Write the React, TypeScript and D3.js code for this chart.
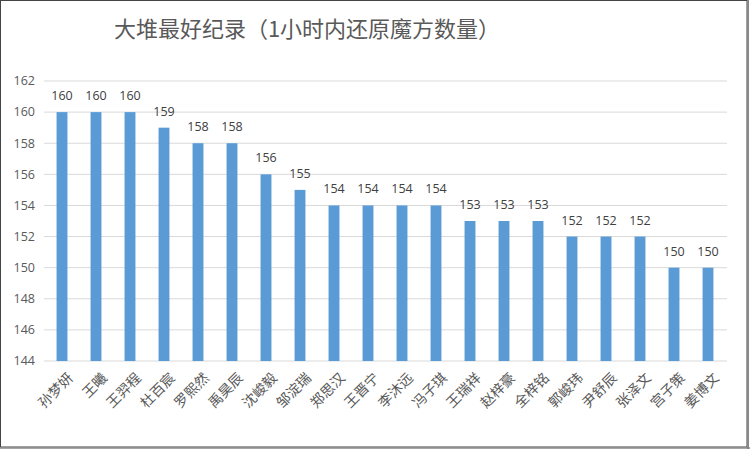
import React from "react";
import * as d3 from "d3";

const names = ["孙梦妍","王曦","王羿程","杜百宸","罗熙然","禹昊辰","沈峻毅","邹淀瑞","郑思汉","王晋宁","李沐远","冯子琪","王瑞祥","赵梓豪","全梓铭","郭峻玮","尹舒辰","张泽文","宫子策","姜博文"];
const values = [160,160,160,159,158,158,156,155,154,154,154,154,153,153,153,152,152,152,150,150];
const yTicks = [144,146,148,150,152,154,156,158,160,162];
const title = "大堆最好纪录（1小时内还原魔方数量）";

const W = 750, H = 449;
const left = 45, right = 725, top = 81, bottom = 361;

export default function App() {
  const x = d3.scaleBand<string>().domain(names).range([left, right]).paddingInner(0.68).paddingOuter(0.34);
  const y = d3.scaleLinear().domain([144, 162]).range([bottom, top]);
  const font = "'Noto Sans CJK SC', 'Noto Sans', sans-serif";
  const numFont = "'Open Sans', 'Liberation Sans', Arial, sans-serif";
  return (
    <svg width={W} height={H} style={{ position: "absolute", left: 0, top: 0, display: "block" }}>
      <rect x={0} y={0} width={W} height={H} fill="#fff" />
      <rect x={0.5} y={0.5} width={746.5} height={446.5} fill="none" stroke="#444" strokeWidth={1} />
      <line x1={748} y1={0} x2={748} y2={449} stroke="#888" strokeWidth={2} />
      <line x1={0} y1={448} x2={750} y2={448} stroke="#888" strokeWidth={1.5} />
      <text x={307} y={37} textAnchor="middle" fontFamily={font} fontSize={22} fill="#595959">{title}</text>
      {yTicks.map(t => (
        <g key={t}>
          <line x1={44} x2={727} y1={y(t)} y2={y(t)} stroke="#d9d9d9" strokeWidth={1} />
          <text x={35} y={y(t)} dy="0.35em" textAnchor="end" fontFamily={numFont} fontSize={12.5} fill="#595959">{t}</text>
        </g>
      ))}
      {names.map((n, i) => {
        const bx = x(n)!;
        const cx = bx + x.bandwidth() / 2;
        return (
          <g key={n}>
            <rect x={bx} y={y(values[i])} width={x.bandwidth()} height={bottom - y(values[i])} fill="#5b9bd5" />
            <text x={cx} y={y(values[i]) - 12} textAnchor="middle" fontFamily={numFont} fontSize={12.5} fill="#404040">{values[i]}</text>
            <text transform={`translate(${cx + 5},${372}) rotate(-45)`} textAnchor="end" dy="0.7em" fontFamily={font} fontSize={14} fill="#595959">{n}</text>
          </g>
        );
      })}
    </svg>
  );
}
